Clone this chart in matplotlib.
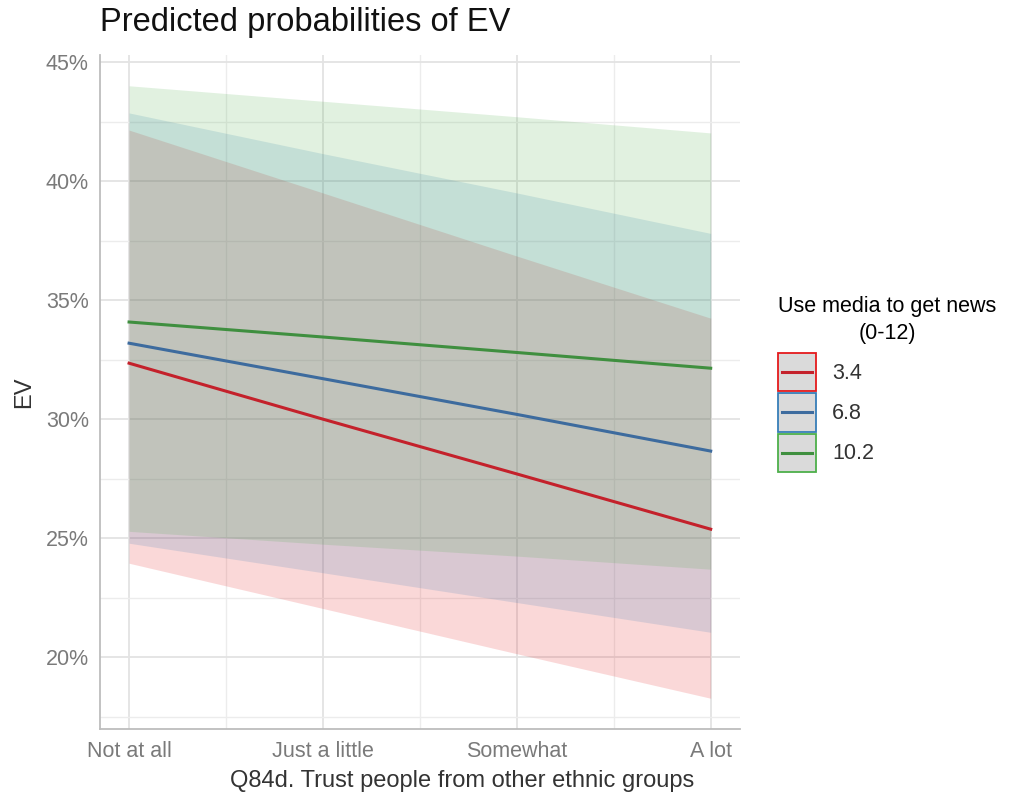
import matplotlib.pyplot as plt
from matplotlib.patches import Patch, Rectangle
from matplotlib.lines import Line2D
from matplotlib.legend_handler import HandlerBase
from matplotlib.ticker import FuncFormatter, MultipleLocator

plt.rcParams['font.family'] = ['Liberation Sans', 'DejaVu Sans']

x = [1, 2, 3, 4]
x_labels = ['Not at all', 'Just a little', 'Somewhat', 'A lot']
groups = ['3.4', '6.8', '10.2']

pred = {
    '3.4': [32.35, 30.0, 27.7, 25.38],
    '6.8': [33.19, 31.7, 30.2, 28.66],
    '10.2': [34.08, 33.45, 32.8, 32.14],
}
low = {
    '3.4': [23.95, 22.05, 20.15, 18.28],
    '6.8': [24.79, 23.55, 22.3, 21.05],
    '10.2': [25.29, 24.75, 24.25, 23.7],
}
high = {
    '3.4': [42.14, 39.5, 36.85, 34.24],
    '6.8': [42.86, 41.15, 39.5, 37.8],
    '10.2': [44.0, 43.35, 42.7, 42.02],
}
colors = {'3.4': '#E41A1C', '6.8': '#377EB8', '10.2': '#4DAF4A'}
line_colors = {'3.4': '#C4212B', '6.8': '#3D6B9E', '10.2': '#3F8F3F'}


class KeyHandler(HandlerBase):
    # grey box with coloured border and a line through the middle
    def __init__(self, line_color):
        super().__init__()
        self.line_color = line_color

    def create_artists(self, legend, orig_handle, xdescent, ydescent,
                       width, height, fontsize, trans):
        x0, y0 = -xdescent, -ydescent
        box = Rectangle((x0, y0), width, height, facecolor='#DADADA',
                        edgecolor=orig_handle.get_edgecolor(), lw=1.3, transform=trans)
        ln = Line2D([x0 + 3, x0 + width - 3], [y0 + height / 2] * 2,
                    color=self.line_color, lw=2.2, transform=trans)
        return [box, ln]


fig = plt.figure(figsize=(10.12, 7.98), dpi=100)
ax = fig.add_axes([0.0988, 0.0865, 0.6322, 0.8445])

for g in groups:
    ax.fill_between(x, low[g], high[g], color=colors[g], alpha=0.17, linewidth=0, zorder=2)
for g in groups:
    ax.plot(x, pred[g], color=line_colors[g], lw=2.2, zorder=3)

ax.set_xlim(0.85, 4.15)
ax.set_ylim(16.99, 45.29)
ax.set_xticks(x)
ax.set_xticklabels(x_labels)
ax.xaxis.set_minor_locator(MultipleLocator(0.5))
ax.yaxis.set_major_locator(MultipleLocator(5))
ax.yaxis.set_minor_locator(MultipleLocator(2.5))
ax.yaxis.set_major_formatter(FuncFormatter(lambda v, p: f'{v:.0f}%'))

ax.grid(which='major', color='#E3E3E3', lw=1.3, zorder=0)
ax.grid(which='minor', color='#ECECEC', lw=1.0, zorder=0)
ax.set_axisbelow(True)
for s in ['top', 'right']:
    ax.spines[s].set_visible(False)
for s in ['left', 'bottom']:
    ax.spines[s].set_color('#BDBDBD')
    ax.spines[s].set_linewidth(1.3)
ax.tick_params(which='both', length=0, labelsize=15.5, labelcolor='#7A7A7A')
ax.tick_params(axis='x', pad=9)
ax.tick_params(axis='y', pad=8)

fig.text(462 / 1012, 1 - 781 / 798, 'Q84d. Trust people from other ethnic groups',
         fontsize=17, color='#333333', ha='center', va='center')
ax.set_ylabel('EV', fontsize=17, color='#333333', labelpad=8)
fig.text(0.0988, 0.972, 'Predicted probabilities of EV', fontsize=23.5, va='center', ha='left', color='#111111')

handles = []
hmap = {}
for g in groups:
    p = Patch(facecolor='#DADADA', edgecolor=colors[g])
    handles.append(p)
    hmap[p] = KeyHandler(line_colors[g])
leg = fig.legend(handles, groups, title='Use media to get news\n(0-12)', handler_map=hmap,
                 loc='center left', bbox_to_anchor=(0.769, 0.519), frameon=False,
                 fontsize=15.5, title_fontsize=15.5, handlelength=1.75, handleheight=2.34,
                 handletextpad=0.75, labelspacing=0.1, borderaxespad=0, borderpad=0)
leg._legend_box.align = 'left'
leg._legend_box.sep = 7
leg.get_title().set_multialignment('center')
leg.get_title().set_linespacing(1.35)
for t in leg.get_texts():
    t.set_color('#333333')

fig.savefig('out.png', dpi=100)
